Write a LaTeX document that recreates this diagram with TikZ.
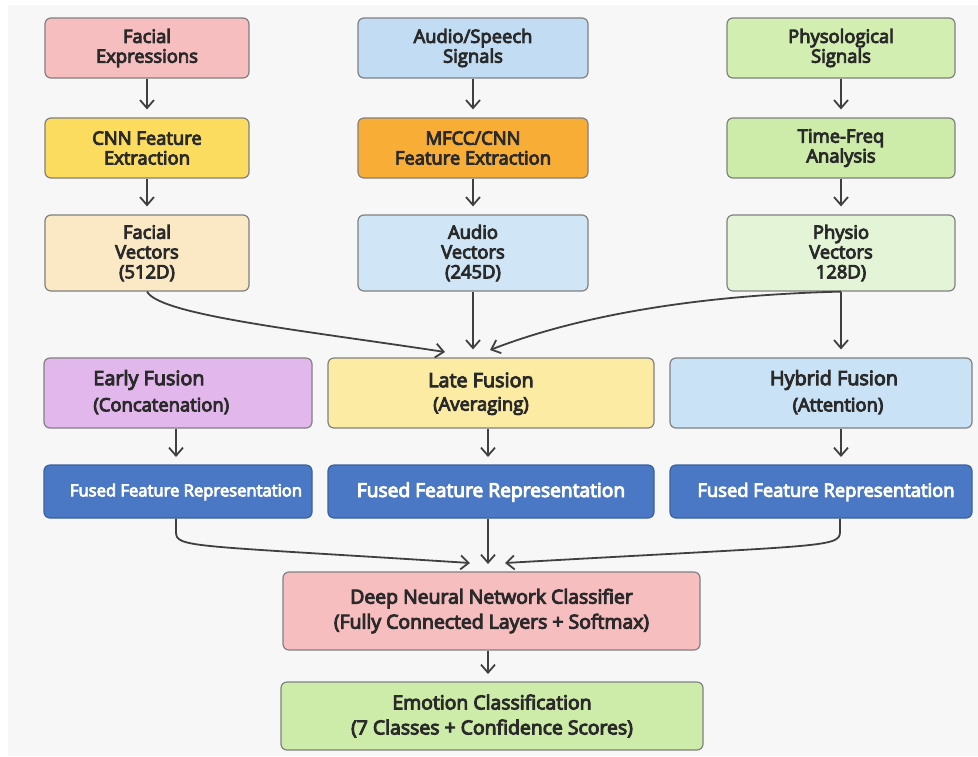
\documentclass[tikz,border=0pt]{standalone}
\usepackage{fontspec}
\setmainfont{Open Sans}[FakeBold=5]
\usetikzlibrary{arrows.meta}
\definecolor{bgc}{HTML}{F7F7F8}
\definecolor{txt}{HTML}{2A2A2A}
\definecolor{edge}{HTML}{808080}
\definecolor{arr}{HTML}{404040}
\definecolor{cpink}{HTML}{F7BEC0}
\definecolor{cyellow}{HTML}{FBDC5E}
\definecolor{corange}{HTML}{F8AE36}
\definecolor{cblue}{HTML}{C2DDF3}
\definecolor{cgreen}{HTML}{D3EEB1}
\definecolor{cgreen2}{HTML}{CDEBA9}
\definecolor{cbeige}{HTML}{FBE8C4}
\definecolor{cblue2}{HTML}{D0E6F7}
\definecolor{cgreen3}{HTML}{E4F5D7}
\definecolor{cpurple}{HTML}{E2B8EC}
\definecolor{clate}{HTML}{FCEBA2}
\definecolor{chyb}{HTML}{C9E2F6}
\definecolor{cfused}{HTML}{4A78C4}
\tikzset{
  x=0.5pt,y=-0.5pt,
  box/.style={draw=edge,line width=0.6pt,rounded corners=3pt,inner sep=0pt,
    align=center,text=txt,font=\fontsize{9.2}{9.9}\selectfont},
  fused/.style={box,fill=cfused,draw=cfused!80!black,text=white},
  txtn/.style={inner sep=0pt,text=txt,align=center},
  conn/.style={draw=arr,line width=0.9pt,-{Straight Barb[length=4pt,width=7pt,line width=0.9pt]},shorten >=4pt},
}
\begin{document}
\begin{tikzpicture}
\fill[white] (0,0) rectangle (978,756);
\fill[bgc] (8,5) rectangle (978,756);
\useasboundingbox (0,0) rectangle (978,756);
% row 1
\node[box,fill=cpink,minimum width=102pt,minimum height=30pt] (fe) at (147,48) {Facial\\Expressions};
\node[box,fill=cblue,minimum width=115pt,minimum height=30pt] (as) at (473,48) {Audio/Speech\\Signals};
\node[box,fill=cgreen,minimum width=114pt,minimum height=30pt] (ps) at (841,48) {Physological\\Signals};
% row 2
\node[box,fill=cyellow,minimum width=102pt,minimum height=30pt] (cnn) at (147,148) {CNN Feature\\Extraction};
\node[box,fill=corange,minimum width=115pt,minimum height=30pt] (mf) at (473,148) {MFCC/CNN\\Feature Extraction};
\node[box,fill=cgreen2,minimum width=114pt,minimum height=30pt] (tf) at (841,148) {Time-Freq\\Analysis};
% row 3
\node[box,fill=cbeige,minimum width=102pt,minimum height=38pt] (fv) at (147,253) {Facial\\Vectors\\(512D)};
\node[box,fill=cblue2,minimum width=115pt,minimum height=38pt] (av) at (473,253) {Audio\\Vectors\\(245D)};
\node[box,fill=cgreen3,minimum width=114pt,minimum height=38pt] (pv) at (841,253) {Physio\\Vectors\\128D)};
% fusion row
\node[box,fill=cpurple,minimum width=134pt,minimum height=35pt] (ef) at (178,393) {};
\node[box,fill=clate,minimum width=163pt,minimum height=35pt] (lf) at (491,393) {};
\node[box,fill=chyb,minimum width=151pt,minimum height=35pt] (hf) at (821,393) {};
\node[txtn,anchor=west,font=\fontsize{9.9}{10}\selectfont] (eft) at (93,380) {Early Fusion};
\node[txtn,anchor=west,font=\fontsize{9.2}{10}\selectfont] (efs) at (93,406) {(Concatenation)};
\node[txtn,font=\fontsize{9.9}{10}\selectfont] (lft) at (481,380) {Late Fusion};
\node[txtn,font=\fontsize{9.2}{10}\selectfont] (lfs) at (481,406) {(Averaging)};
\node[txtn,font=\fontsize{9.9}{10}\selectfont] (hft) at (834,380) {Hybrid Fusion};
\node[txtn,font=\fontsize{9.2}{10}\selectfont] (hfs) at (838,406) {(Attention)};
% fused row
\node[fused,minimum width=134pt,minimum height=26.5pt] (ed) at (178,491.5) {};
\node[fused,minimum width=163pt,minimum height=26.5pt] (ld) at (491,491.5) {};
\node[fused,minimum width=151pt,minimum height=26.5pt] (hd) at (821,491.5) {};
\node[txtn,text=white,font=\fontsize{8.3}{9}\selectfont] (edt) at (186,492) {Fused Feature Representation};
\node[txtn,text=white,font=\fontsize{9.6}{9}\selectfont] (ldt) at (491,492) {Fused Feature Representation};
\node[txtn,text=white,font=\fontsize{9.2}{9}\selectfont] (hdt) at (826,492) {Fused Feature Representation};
% classifier
\node[box,fill=cpink,minimum width=208.5pt,minimum height=39pt,font=\fontsize{9.7}{12.5}\selectfont] (dnn) at (491.5,611) {Deep Neural Network Classifier\\(Fully Connected Layers + Softmax)};
\node[box,fill=cgreen2,minimum width=211pt,minimum height=34pt,font=\fontsize{9.7}{12.5}\selectfont] (emo) at (492,716) {Emotion Classification\\(7 Classes + Confidence Scores)};
% connectors
\draw[conn] (fe) -- (cnn);
\draw[conn] (as) -- (mf);
\draw[conn] (ps) -- (tf);
\draw[conn] (cnn) -- (fv);
\draw[conn] (mf) -- (av);
\draw[conn] (tf) -- (pv);
\draw[conn,shorten >=0pt] (fv.south) .. controls (160,315) and (300,330) .. (445,352);
\draw[conn] (av.south) -- (av.south |- lf.north);
\draw[conn,shorten >=0pt] (pv.south) .. controls (700,295) and (580,315) .. (490,350);
\draw[conn] (pv.south) -- (pv.south |- hf.north);
\draw[conn] (ef.south -| 176,0) -- (176,465);
\draw[conn] (lf.south -| 488,0) -- (488,465);
\draw[conn] (hf.south -| 841,0) -- (841,465);
\draw[conn,shorten >=0pt] (ed.south -| 176,0) -- (176,532) .. controls (176,548) and (190,545) .. (470,563);
\draw[conn] (ld.south -| 488,0) -- (488,572);
\draw[conn,shorten >=0pt] (hd.south -| 840,0) -- (840,532) .. controls (840,548) and (820,545) .. (505,563);
\draw[conn] (dnn.south -| 488,0) -- (488,682);
\end{tikzpicture}
\end{document}
